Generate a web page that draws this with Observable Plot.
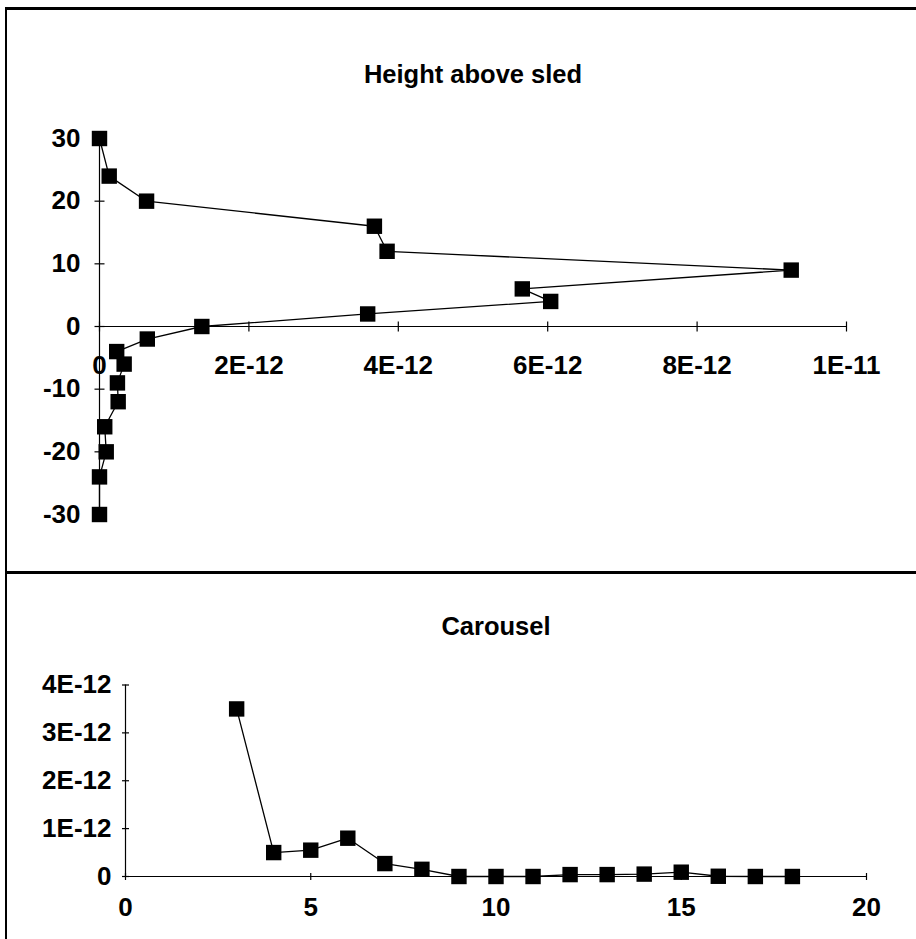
<!DOCTYPE html>
<html>
<head>
<meta charset="utf-8">
<script src="https://cdn.jsdelivr.net/npm/d3@7"></script>
<script src="https://cdn.jsdelivr.net/npm/@observablehq/plot@0.6"></script>
<style>
  html, body { margin: 0; padding: 0; background: #fff; }
  #page { position: relative; width: 916px; height: 939px; overflow: hidden; background: #fff; }
  .panel { position: absolute; left: 0; width: 916px; }
  .rule { position: absolute; background: #000; }
  svg { overflow: visible; }
</style>
</head>
<body>
<div id="page">
  <div class="panel" id="top" style="top:0px;"></div>
  <div class="panel" id="bottom" style="top:575px;"></div>
  <div class="rule" style="left:5px; top:7px; width:911px; height:3px;"></div>
  <div class="rule" style="left:5px; top:7px; width:1.5px; height:932px;"></div>
  <div class="rule" style="left:5px; top:571px; width:911px; height:3px;"></div>
</div>
<script>
// ---- Top panel: Height above sled ----
const heightTitle = "Height above sled";
const heightY = [30, 24, 20, 16, 12, 9, 6, 4, 2, 0, -2, -4, -6, -9, -12, -16, -20, -24, -30];
const heightX = [0, 0.13e-12, 0.63e-12, 3.68e-12, 3.85e-12, 9.26e-12, 5.66e-12, 6.04e-12, 3.59e-12,
                 1.37e-12, 0.64e-12, 0.23e-12, 0.33e-12, 0.24e-12, 0.25e-12, 0.07e-12, 0.09e-12, 0, 0];
const heightXTicks = [0, 2e-12, 4e-12, 6e-12, 8e-12, 1e-11];
const heightXTickLabels = ["0", "2E-12", "4E-12", "6E-12", "8E-12", "1E-11"];
const heightYTicks = [30, 20, 10, 0, -10, -20, -30];
const heightYTickLabels = ["30", "20", "10", "0", "-10", "-20", "-30"];

// ---- Bottom panel: Carousel ----
const carouselTitle = "Carousel";
const carouselX = [3, 4, 5, 6, 7, 8, 9, 10, 11, 12, 13, 14, 15, 16, 17, 18];
const carouselY = [3.5e-12, 0.5e-12, 0.55e-12, 0.8e-12, 0.27e-12, 0.15e-12, 0, 0, 0,
                   0.04e-12, 0.04e-12, 0.05e-12, 0.09e-12, 0.005e-12, 0, 0];
const carouselXTicks = [0, 5, 10, 15, 20];
const carouselXTickLabels = ["0", "5", "10", "15", "20"];
const carouselYTicks = [0, 1e-12, 2e-12, 3e-12, 4e-12];
const carouselYTickLabels = ["0", "1E-12", "2E-12", "3E-12", "4E-12"];

const FONT = "'Liberation Sans', Arial, Helvetica, sans-serif";
const hTick = { draw(ctx, size) { const r = Math.sqrt(size / Math.PI); ctx.moveTo(-r, 0); ctx.lineTo(r, 0); } };
const vTick = { draw(ctx, size) { const r = Math.sqrt(size / Math.PI); ctx.moveTo(0, -r); ctx.lineTo(0, r); } };

const heightData = heightY.map((y, i) => ({x: heightX[i], y}));
const carouselData = carouselX.map((x, i) => ({x, y: carouselY[i]}));

const topPlot = Plot.plot({
  width: 916, height: 570,
  marginLeft: 99, marginRight: 70, marginTop: 138, marginBottom: 56,
  style: {fontFamily: FONT, background: "transparent", overflow: "visible"},
  x: {domain: [0, 1e-11], axis: null},
  y: {domain: [-30, 30], axis: null},
  marks: [
    Plot.ruleX([0], {y1: -30, y2: 30, stroke: "#000", strokeWidth: 1.2}),
    Plot.ruleY([0], {x1: 0, x2: 1e-11, stroke: "#000", strokeWidth: 1.2}),
    Plot.dot(heightYTicks, {x: 0, y: d => d, symbol: hTick, r: 5, stroke: "#000", strokeWidth: 1.2, fill: "none"}),
    Plot.dot(heightXTicks, {x: d => d, y: 0, symbol: vTick, r: 5, stroke: "#000", strokeWidth: 1.2, fill: "none"}),
    Plot.text(heightYTicks, {x: 0, y: d => d, text: (d, i) => heightYTickLabels[i], textAnchor: "end", dx: -19,
      fontSize: 26, fontWeight: "bold", fill: "#000"}),
    Plot.text(heightXTicks, {x: d => d, y: 0, text: (d, i) => heightXTickLabels[i], dy: 38.7,
      fontSize: 26, fontWeight: "bold", fill: "#000"}),
    Plot.line(heightData, {x: "x", y: "y", stroke: "#000", strokeWidth: 1.3}),
    Plot.dot(heightData, {x: "x", y: "y", symbol: "square", r: 8.7, fill: "#000", stroke: "none"}),
    Plot.text([heightTitle], {frameAnchor: "top", dy: -74, fontSize: 25.5, fontWeight: "bold", fill: "#000"})
  ]
});
document.getElementById("top").appendChild(topPlot);

const bottomPlot = Plot.plot({
  width: 916, height: 364,
  marginLeft: 125, marginRight: 50, marginTop: 109.5, marginBottom: 63,
  style: {fontFamily: FONT, background: "transparent", overflow: "visible"},
  x: {domain: [0, 20], axis: null},
  y: {domain: [0, 4e-12], axis: null},
  marks: [
    Plot.ruleX([0], {y1: 0, y2: 4e-12, stroke: "#000", strokeWidth: 1.2}),
    Plot.ruleY([0], {x1: 0, x2: 20, stroke: "#000", strokeWidth: 1.2}),
    Plot.dot(carouselYTicks, {x: 0, y: d => d, symbol: hTick, r: 3.5, stroke: "#000", strokeWidth: 1.2, fill: "none"}),
    Plot.dot(carouselXTicks, {x: d => d, y: 0, symbol: vTick, r: 3.5, stroke: "#000", strokeWidth: 1.2, fill: "none"}),
    Plot.text(carouselYTicks, {x: 0, y: d => d, text: (d, i) => carouselYTickLabels[i], textAnchor: "end", dx: -14,
      fontSize: 26, fontWeight: "bold", fill: "#000"}),
    Plot.text(carouselXTicks, {x: d => d, y: 0, text: (d, i) => carouselXTickLabels[i], dy: 30.7,
      fontSize: 26, fontWeight: "bold", fill: "#000"}),
    Plot.line(carouselData, {x: "x", y: "y", stroke: "#000", strokeWidth: 1.3}),
    Plot.dot(carouselData, {x: "x", y: "y", symbol: "square", r: 8.7, fill: "#000", stroke: "none"}),
    Plot.text([carouselTitle], {frameAnchor: "top", dy: -68, fontSize: 25.5, fontWeight: "bold", fill: "#000"})
  ]
});
document.getElementById("bottom").appendChild(bottomPlot);
</script>
</body>
</html>
